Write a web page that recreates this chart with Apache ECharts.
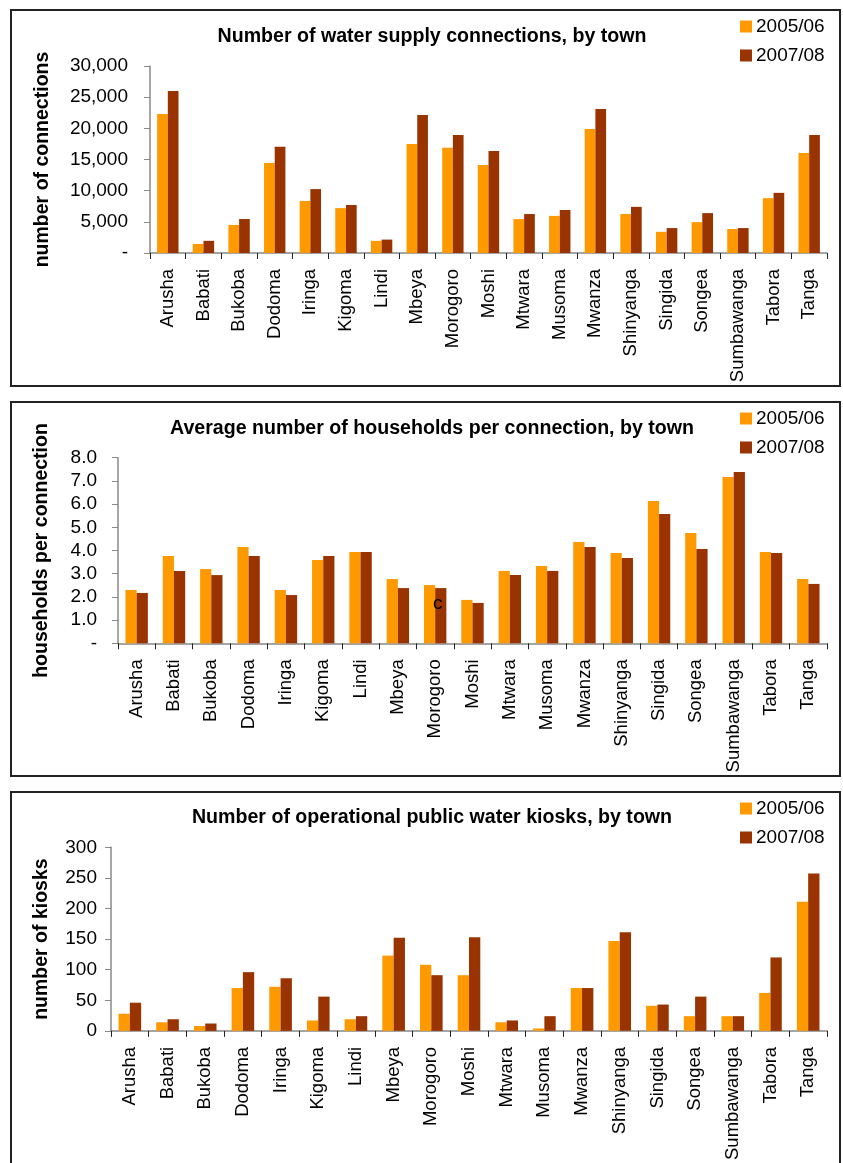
<!DOCTYPE html>
<html>
<head>
<meta charset="utf-8">
<script src="https://cdn.jsdelivr.net/npm/echarts@6/dist/echarts.min.js"></script>
<style>
  html, body { margin: 0; padding: 0; background: #fff; }
  #chart { width: 843px; height: 1163px; }
</style>
</head>
<body>
<div id="chart"></div>
<script>
// Towns (shared by all three panels)
const towns = ['Arusha', 'Babati', 'Bukoba', 'Dodoma', 'Iringa', 'Kigoma', 'Lindi', 'Mbeya',
  'Morogoro', 'Moshi', 'Mtwara', 'Musoma', 'Mwanza', 'Shinyanga', 'Singida', 'Songea',
  'Sumbawanga', 'Tabora', 'Tanga'];
const periods = ['2005/06', '2007/08'];

// Number of water supply connections
const connections0506 = [22300, 1450, 4500, 14450, 8350, 7200, 1950, 17500, 16900, 14100,
  5450, 5950, 19900, 6250, 3400, 4950, 3850, 8800, 16050];
const connections0708 = [26000, 1950, 5450, 17050, 10250, 7700, 2150, 22150, 18950, 16350,
  6250, 6900, 23100, 7400, 4000, 6400, 4000, 9650, 18950];

// Average number of households per connection
const households0506 = [2.3, 3.76, 3.2, 4.15, 2.3, 3.59, 3.94, 2.77, 2.51, 1.87,
  3.12, 3.33, 4.37, 3.89, 6.13, 4.75, 7.17, 3.94, 2.77];
const households0708 = [2.17, 3.12, 2.94, 3.76, 2.08, 3.76, 3.94, 2.38, 2.38, 1.74,
  2.94, 3.12, 4.15, 3.68, 5.57, 4.06, 7.38, 3.89, 2.56];

// Number of operational public water kiosks
const kiosks0506 = [28, 14, 8, 70, 72, 17, 19, 123, 108, 91, 14, 4, 70, 147, 41, 24, 24, 62, 211];
const kiosks0708 = [46, 19, 12, 96, 86, 56, 24, 152, 91, 153, 17, 24, 70, 161, 43, 56, 24, 120, 257];

const titles = [
  'Number of water supply connections, by town',
  'Average number of households per connection, by town',
  'Number of operational public water kiosks, by town'
];
const axisNames = ['number of connections', 'households per connection', 'number of kiosks'];

const ORANGE = '#FF9900';
const BROWN = '#993300';
const FONT = 'Liberation Sans, Arial, sans-serif';

// Panel geometry
const panels = [
  { boxTop: 10, boxH: 376, left: 150, top: 66, height: 187, titleTop: 22, legendTop: 12, nameGap: 97,
    labelMargin: 22, max: 30000, interval: 5000,
    fmt: v => v === 0 ? '-' : v.toLocaleString('en-US'),
    a: connections0506, b: connections0708 },
  { boxTop: 402, boxH: 374, left: 118, top: 457.7, height: 185.6, titleTop: 414, legendTop: 404, nameGap: 66,
    labelMargin: 21, max: 8, interval: 1,
    fmt: v => v === 0 ? '-' : v.toFixed(1),
    a: households0506, b: households0708 },
  { boxTop: 792, boxH: 400, left: 111, top: 847.3, height: 187.4, titleTop: 803, legendTop: 794, nameGap: 59,
    labelMargin: 14, max: 300, interval: 50,
    fmt: v => String(v),
    a: kiosks0506, b: kiosks0708 }
];

const grid = [], xAxis = [], yAxis = [], series = [], title = [], legend = [], graphic = [];

panels.forEach((p, i) => {
  graphic.push({
    type: 'rect', z: 0, silent: true,
    shape: { x: 11, y: p.boxTop, width: 829, height: p.boxH },
    style: { fill: 'none', stroke: '#222', lineWidth: 2 }
  });
  grid.push({ left: p.left, top: p.top, height: p.height, width: 827 - p.left });
  title.push({
    text: titles[i], left: 427, top: p.titleTop, textAlign: 'center',
    textStyle: { fontFamily: FONT, fontSize: 19.6, fontWeight: 'bold', color: '#000' }
  });
  legend.push({
    data: periods, orient: 'vertical', left: 735, top: p.legendTop,
    itemWidth: 12, itemHeight: 12, itemGap: 10, icon: 'rect',
    textStyle: { fontFamily: FONT, fontSize: 19, color: '#000', padding: [0, 0, 0, -1] }
  });
  xAxis.push({
    type: 'category', gridIndex: i, data: towns,
    axisLine: { lineStyle: { color: '#888', width: 1.5 } },
    axisTick: { show: true, length: 6, lineStyle: { color: '#222' } },
    axisLabel: { rotate: 90, margin: 16, fontFamily: FONT, fontSize: 18.5, color: '#000', interval: 0 }
  });
  yAxis.push({
    type: 'value', gridIndex: i, min: 0, max: p.max, interval: p.interval,
    name: axisNames[i], nameLocation: 'middle', nameGap: p.nameGap,
    nameTextStyle: { fontFamily: FONT, fontSize: 19.5, fontWeight: 'bold', color: '#000' },
    splitLine: { show: false },
    axisLine: { show: true, lineStyle: { color: '#888', width: 1.5 } },
    axisTick: { show: true, length: 6, lineStyle: { color: '#888' } },
    axisLabel: { formatter: p.fmt, margin: p.labelMargin, fontFamily: FONT, fontSize: 19, color: '#000' }
  });
  [p.a, p.b].forEach((vals, k) => {
    series.push({
      type: 'bar', name: periods[k], xAxisIndex: i, yAxisIndex: i, data: vals,
      barGap: '0%', barCategoryGap: '40%',
      itemStyle: { color: k === 0 ? ORANGE : BROWN },
      emphasis: { disabled: true }
    });
  });
});

// Stray character sitting on the Morogoro bars of the middle panel
graphic.push({
  type: 'text', left: 433, top: 594, z: 100,
  style: { text: 'c', fontFamily: FONT, fontSize: 19, fill: '#000' }
});

const chart = echarts.init(document.getElementById('chart'), null, { renderer: 'canvas' });
chart.setOption({
  animation: false,
  backgroundColor: '#fff',
  title, legend, grid, xAxis, yAxis, series, graphic
});
</script>
</body>
</html>
